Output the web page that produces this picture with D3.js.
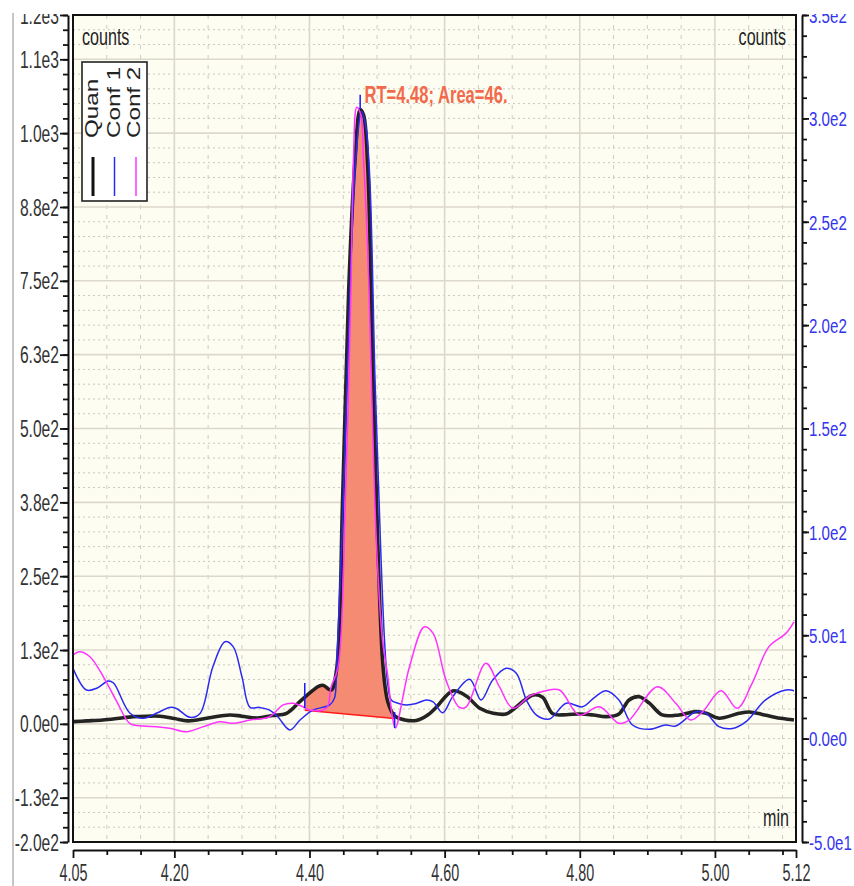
<!DOCTYPE html>
<html><head><meta charset="utf-8">
<script src="https://cdn.jsdelivr.net/npm/d3@7"></script>
<style>
body{margin:0;background:#fff}
svg{display:block}
text{font-family:"Liberation Sans",Arial,Helvetica,sans-serif}
</style>
</head><body>
<svg id="chart" width="854" height="886"></svg>
<script>
// ---------------- DATA ----------------
const seriesNames = ["Quan", "Conf 1", "Conf 2"];
const seriesColors = ["#111111", "#2a2af2", "#ff33ff"];

// Quan (left axis, counts)
const quanTime = [4.050,4.070,4.094,4.115,4.139,4.160,4.179,4.200,4.220,4.250,4.282,4.300,4.323,4.345,4.366,4.386,4.400,4.414,4.421,4.432,4.440,4.449,4.458,4.467,4.475,4.480,4.486,4.494,4.501,4.509,4.516,4.526,4.541,4.558,4.575,4.588,4.612,4.632,4.652,4.672,4.691,4.706,4.718,4.732,4.745,4.760,4.780,4.799,4.820,4.839,4.858,4.873,4.888,4.903,4.922,4.947,4.972,4.987,5.006,5.036,5.051,5.070,5.085,5.100,5.117];
const quanCounts = [3.7,5,6.6,9,12.2,13,12.9,9,5,10,15.1,13,10,14,17.6,38,52,64,65,57,91,379,734,948,1040,1031,948,592,308,95,37,13.4,6.6,5.8,15,28.6,55.7,47.2,26.4,18,16.8,28.6,40,49,45,17,15.5,16.8,15,12.2,16.8,40.5,46,35,15.1,15.1,20.7,18,9.5,18,20.1,16,12.2,9,6.6];

// Conf 1 (right axis)
const conf1Time = [4.050,4.070,4.086,4.102,4.110,4.134,4.154,4.175,4.193,4.203,4.223,4.238,4.257,4.275,4.287,4.300,4.312,4.326,4.341,4.353,4.371,4.386,4.405,4.430,4.437,4.440,4.450,4.460,4.468,4.477,4.483,4.489,4.497,4.505,4.511,4.516,4.521,4.531,4.543,4.558,4.573,4.583,4.597,4.612,4.637,4.654,4.671,4.691,4.706,4.721,4.736,4.755,4.780,4.804,4.822,4.839,4.858,4.878,4.903,4.927,4.942,4.972,4.987,5.006,5.026,5.046,5.075,5.105,5.117];
const conf1Counts = [34,23.5,24.5,27.9,26.9,12.4,9.8,12.5,15.1,14.6,10.3,12.2,34.8,46.9,44.5,30,15.1,15.1,13.8,10.6,4.2,9,13.8,16.3,19.6,34.2,115.4,217,278,303.3,296.8,272.6,173.5,95.1,47.7,25.9,18.7,17.1,16.3,17,18.7,17.8,12.5,20.3,28.7,18.7,28.3,34,31.6,18.7,11.4,9.5,17.1,15.4,20,23.2,18.7,6.6,4.5,6.6,6.1,13,12.2,5.8,4.9,8.2,18.7,23.5,23.2];

// Conf 2 (right axis)
const conf2Time = [4.050,4.060,4.075,4.095,4.115,4.134,4.154,4.174,4.193,4.218,4.243,4.267,4.287,4.312,4.341,4.361,4.376,4.390,4.400,4.425,4.432,4.442,4.453,4.461,4.465,4.470,4.476,4.480,4.486,4.499,4.508,4.516,4.522,4.527,4.548,4.570,4.583,4.602,4.622,4.632,4.661,4.681,4.701,4.726,4.748,4.770,4.799,4.829,4.858,4.873,4.915,4.942,4.964,4.982,5.009,5.033,5.055,5.080,5.105,5.117];
const conf2Counts = [40.4,42,39.6,29.9,17.8,7.4,6.1,5.8,5,3.3,5.8,8.2,7.4,9,10.6,16.3,17.1,15.4,13.8,14.7,25.1,34.1,115.4,212,280,305.4,301.6,280,237.3,95.1,47.7,30,12,5.1,34.8,54.1,50.9,28.3,15.1,15.4,36.4,25.1,14.7,20.6,23,23.5,11.4,15.4,7.4,9,25.1,17.1,9,13,23.2,14.7,26.7,44.5,50.9,56.5];

// integration (left axis units)
const peakStart = {t: 4.393, v: 23};
const peakEnd   = {t: 4.526, v: 9};
const markers = [
  {t: 4.393, v0: 27, v1: 69},
  {t: 4.526, v0: -7, v1: 20},
  {t: 4.475, v0: 1041, v1: 1065}
];
const annotation = "RT=4.48; Area=46.";

// axes ticks
const xMajor = [4.05, 4.20, 4.40, 4.60, 4.80, 5.00, 5.12];
const xMajorLabels = ["4.05","4.20","4.40","4.60","4.80","5.00","5.12"];
const xMinor = [4.10,4.15,4.25,4.30,4.35,4.45,4.50,4.55,4.65,4.70,4.75,4.85,4.90,4.95,5.05,5.10];
const leftMajor = [-200,-125,0,125,250,375,500,625,750,875,1000,1125,1200];
const leftLabels = ["-2.0e2","-1.3e2","0.0e0","1.3e2","2.5e2","3.8e2","5.0e2","6.3e2","7.5e2","8.8e2","1.0e3","1.1e3","1.2e3"];
const rightMajor = [-50,0,50,100,150,200,250,300,350];
const rightLabels = ["-5.0e1","0.0e0","5.0e1","1.0e2","1.5e2","2.0e2","2.5e2","3.0e2","3.5e2"];

// ---------------- CHART ----------------
const svg = d3.select("#chart");
const P = {left: 73, right: 796, top: 15, bottom: 842};
const x = d3.scaleLinear().domain([4.05, 5.12]).range([P.left, P.right]);
const yL = d3.scaleLinear().domain([-200, 1200]).range([P.bottom, P.top]);
const yR = d3.scaleLinear().domain([-50, 350]).range([P.bottom, P.top]);

const defs = svg.append("defs");
defs.append("clipPath").attr("id","topclip").append("rect")
  .attr("x",-900).attr("y",14).attr("width",2000).attr("height",900);
defs.append("clipPath").attr("id","plotclip").append("rect")
  .attr("x",P.left).attr("y",P.top).attr("width",P.right-P.left).attr("height",P.bottom-P.top);
defs.append("clipPath").attr("id","peakclip").append("rect")
  .attr("x", x(peakStart.t)).attr("y", P.top)
  .attr("width", x(peakEnd.t) - x(peakStart.t)).attr("height", P.bottom - P.top);

// thin outer panel line
svg.append("line").attr("x1",13).attr("x2",13).attr("y1",13).attr("y2",886)
  .attr("stroke","#a0a0a0").attr("stroke-width",1.2);

// plot background
svg.append("rect").attr("x",P.left).attr("y",P.top)
  .attr("width",P.right-P.left).attr("height",P.bottom-P.top)
  .attr("fill","#fefdf2");

// grid
const grid = svg.append("g").attr("clip-path","url(#plotclip)");
const hMinor = d3.range(-200, 1201, 25).filter(v => v % 125 !== 0);
grid.selectAll(".hm").data(hMinor).join("line")
  .attr("x1",P.left).attr("x2",P.right)
  .attr("y1",d=>yL(d)).attr("y2",d=>yL(d))
  .attr("stroke","#c9c8c0").attr("stroke-width",1).attr("stroke-dasharray","2,3");
grid.selectAll(".vm").data(xMinor).join("line")
  .attr("y1",P.top).attr("y2",P.bottom)
  .attr("x1",d=>x(d)).attr("x2",d=>x(d))
  .attr("stroke","#cfcdc4").attr("stroke-width",1).attr("stroke-dasharray","4,6");
grid.selectAll(".hM").data(d3.range(-125, 1126, 125)).join("line")
  .attr("x1",P.left).attr("x2",P.right)
  .attr("y1",d=>yL(d)).attr("y2",d=>yL(d))
  .attr("stroke","#dcd9cb").attr("stroke-width",1.6);
grid.selectAll(".vM").data(xMajor.filter(v => v > 4.06 && v < 5.1)).join("line")
  .attr("y1",P.top).attr("y2",P.bottom)
  .attr("x1",d=>x(d)).attr("x2",d=>x(d))
  .attr("stroke","#dcd9cb").attr("stroke-width",1.6);

// data tables
const quan = quanTime.map((t,i)=>({t, v: quanCounts[i]}));
const conf1 = conf1Time.map((t,i)=>({t, v: conf1Counts[i]}));
const conf2 = conf2Time.map((t,i)=>({t, v: conf2Counts[i]}));
const curve = d3.curveCatmullRom.alpha(0.5);
const baseAt = d3.scaleLinear().domain([peakStart.t, peakEnd.t]).range([peakStart.v, peakEnd.v]);

const layer = svg.append("g").attr("clip-path","url(#plotclip)");

// integrated area
layer.append("path").datum(quan)
  .attr("clip-path","url(#peakclip)")
  .attr("d", d3.area().x(d=>x(d.t)).y0(d=>yL(baseAt(d.t))).y1(d=>yL(d.v)).curve(curve))
  .attr("fill","#f68b74");
layer.append("line")
  .attr("x1",x(peakStart.t)).attr("y1",yL(peakStart.v))
  .attr("x2",x(peakEnd.t)).attr("y2",yL(peakEnd.v))
  .attr("stroke","#ff1a1a").attr("stroke-width",1.6);

// lines
const lineL = d3.line().x(d=>x(d.t)).y(d=>yL(d.v)).curve(curve);
const lineR = d3.line().x(d=>x(d.t)).y(d=>yR(d.v)).curve(curve);
layer.append("path").datum(quan).attr("d", lineL)
  .attr("fill","none").attr("stroke",seriesColors[0]).attr("stroke-width",3.6)
  .attr("stroke-linejoin","round").attr("stroke-opacity",0.92);
layer.append("path").datum(conf1).attr("d", lineR)
  .attr("fill","none").attr("stroke",seriesColors[1]).attr("stroke-width",1.5)
  .attr("stroke-linejoin","round");
layer.append("path").datum(conf2).attr("d", lineR)
  .attr("fill","none").attr("stroke",seriesColors[2]).attr("stroke-width",1.5)
  .attr("stroke-linejoin","round");

// integration markers
layer.selectAll(".mk").data(markers).join("line")
  .attr("x1",d=>x(d.t)).attr("x2",d=>x(d.t))
  .attr("y1",d=>yL(d.v0)).attr("y2",d=>yL(d.v1))
  .attr("stroke","#1a1aff").attr("stroke-width",1.5);

// annotation
svg.append("text")
  .attr("transform",`translate(${x(4.48)+1},${yL(1040)-7}) scale(0.69,1)`)
  .attr("font-size",24).attr("font-weight","bold").attr("fill","#f26a4b")
  .text(annotation);

// plot border
svg.append("rect").attr("x",P.left).attr("y",P.top)
  .attr("width",P.right-P.left).attr("height",P.bottom-P.top)
  .attr("fill","none").attr("stroke","#111").attr("stroke-width",2);

// corner labels
function ctext(xp, yp, str, size, sx, anchor, color){
  return svg.append("text")
    .attr("transform",`translate(${xp},${yp}) scale(${sx},1)`)
    .attr("font-size",size).attr("text-anchor",anchor).attr("fill",color).text(str);
}
ctext(82, 45, "counts", 23, 0.7, "start", "#222");
ctext(786, 45, "counts", 23, 0.7, "end", "#222");
ctext(789, 826, "min", 23, 0.7, "end", "#222");

// legend
const lg = svg.append("g");
lg.append("rect").attr("x",82).attr("y",62).attr("width",65).attr("height",139)
  .attr("fill","#ffffff").attr("stroke","#222").attr("stroke-width",1.6);
const legX = [98, 120, 140];
const legLineX = [93, 114.5, 136];
seriesNames.forEach((n,i)=>{
  lg.append("text")
    .attr("transform",`translate(${legX[i]},138) rotate(-90) scale(1.1,0.82)`)
    .attr("font-size",22).attr("fill","#222").text(n);
  lg.append("line").attr("x1",legLineX[i]).attr("x2",legLineX[i])
    .attr("y1",157).attr("y2",196)
    .attr("stroke",seriesColors[i]).attr("stroke-width", i===0?3:1.5);
});

// left axis
const axL = svg.append("g").attr("transform","translate(68,0)").attr("clip-path","url(#topclip)");
axL.call(d3.axisLeft(yL).tickValues(d3.range(-200,1201,25)).tickFormat("").tickSize(5).tickSizeOuter(0));
axL.select(".domain").remove();
axL.selectAll(".tick line").attr("stroke","#111").attr("stroke-width",1.8);
const axL2 = svg.append("g").attr("transform","translate(68,0)").attr("clip-path","url(#topclip)");
axL2.call(d3.axisLeft(yL).tickValues(leftMajor).tickFormat((d,i)=>leftLabels[i]).tickSize(8).tickSizeOuter(0));
axL2.select(".domain").attr("stroke","#111").attr("stroke-width",2);
axL2.selectAll(".tick line").attr("stroke","#111").attr("stroke-width",1.8);
axL2.selectAll(".tick text").attr("font-size",23).attr("fill","#333")
  .attr("x",-9/0.68).attr("dy","0.35em").attr("transform","scale(0.68,1)")
  .attr("font-family","'Liberation Sans',Arial,sans-serif");

// right axis
const axR = svg.append("g").attr("transform","translate(802,0)").attr("clip-path","url(#topclip)");
axR.call(d3.axisRight(yR).tickValues(d3.range(-50,351,10)).tickFormat("").tickSize(5).tickSizeOuter(0));
axR.select(".domain").remove();
axR.selectAll(".tick line").attr("stroke","#111").attr("stroke-width",1.8);
const axR2 = svg.append("g").attr("transform","translate(802,0)").attr("clip-path","url(#topclip)");
axR2.call(d3.axisRight(yR).tickValues(rightMajor).tickFormat((d,i)=>rightLabels[i]).tickSize(7).tickSizeOuter(0));
axR2.select(".domain").attr("stroke","#111").attr("stroke-width",2);
axR2.selectAll(".tick line").attr("stroke","#111").attr("stroke-width",1.8);
axR2.selectAll(".tick text").attr("font-size",21).attr("fill","#3434f0")
  .attr("x",7/0.72).attr("dy","0.35em").attr("transform","scale(0.72,1)")
  .attr("font-family","'Liberation Sans',Arial,sans-serif");

// bottom axis
const axB = svg.append("g").attr("transform","translate(0,850)");
axB.call(d3.axisBottom(x).tickValues(xMinor).tickFormat("").tickSize(5).tickSizeOuter(0));
axB.select(".domain").remove();
axB.selectAll(".tick line").attr("stroke","#111").attr("stroke-width",1.8);
const axB2 = svg.append("g").attr("transform","translate(0,850)");
axB2.call(d3.axisBottom(x).tickValues(xMajor).tickFormat((d,i)=>xMajorLabels[i]).tickSize(8).tickSizeOuter(0));
axB2.select(".domain").attr("stroke","#111").attr("stroke-width",2.2);
axB2.selectAll(".tick line").attr("stroke","#111").attr("stroke-width",1.8);
axB2.selectAll(".tick text").attr("font-size",24).attr("fill","#333")
  .attr("y",14).attr("dy","0.71em").attr("transform","scale(0.6,1)")
  .attr("font-family","'Liberation Sans',Arial,sans-serif");
</script>
</body></html>
